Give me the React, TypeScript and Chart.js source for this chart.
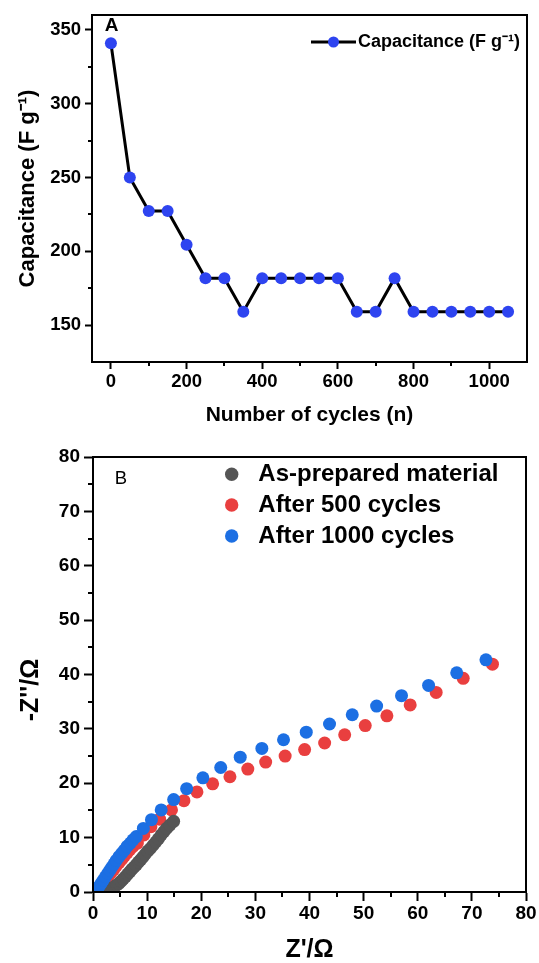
import React, { useEffect, useRef } from 'react';
import { Chart, registerables } from 'chart.js';
Chart.register(...registerables);

// ---------- Panel A data ----------
const cycles = [0, 50, 100, 150, 200, 250, 300, 350, 400, 450, 500, 550, 600, 650, 700, 750, 800, 850, 900, 950, 1000, 1050];
const capacitance = [340.9, 250.0, 227.3, 227.3, 204.5, 181.8, 181.8, 159.1, 181.8, 181.8, 181.8, 181.8, 181.8, 159.1, 159.1, 181.8, 159.1, 159.1, 159.1, 159.1, 159.1, 159.1];
const capLabel = 'Capacitance (F g\u207B\u00B9)';
const cycleTicks = [0, 200, 400, 600, 800, 1000];
const cycleMinorTicks = [100, 300, 500, 700, 900];
const capTicks = [150, 200, 250, 300, 350];
const capMinorTicks = [175, 225, 275, 325];

// ---------- Panel B data ----------
const seriesLabels = ['As-prepared material', 'After 500 cycles', 'After 1000 cycles'];
const asPreparedRe = [2.4, 2.8, 3.2, 3.6, 4.0, 4.4, 4.8, 5.2, 5.6, 6.0, 6.4, 6.8, 7.2, 7.6, 8.0, 8.4, 8.8, 9.2, 9.6, 10.1, 10.6, 11.1, 11.6, 12.1, 12.6, 13.1, 13.6, 14.2, 14.9];
const asPreparedIm = [0.4, 0.5, 0.6, 0.8, 1.0, 1.3, 1.6, 2.0, 2.4, 2.8, 3.3, 3.7, 4.2, 4.6, 5.0, 5.5, 5.9, 6.4, 6.9, 7.5, 8.0, 8.6, 9.2, 9.8, 10.5, 11.1, 11.7, 12.3, 13.0];
const after500Re = [0.8, 1.2, 1.6, 2.0, 2.4, 2.8, 3.3, 3.8, 4.3, 4.8, 5.3, 5.8, 6.3, 6.8, 7.4, 8.2, 9.4, 10.7, 12.3, 14.5, 16.8, 19.2, 22.1, 25.3, 28.6, 31.9, 35.5, 39.1, 42.8, 46.5, 50.3, 54.3, 58.6, 63.4, 68.4, 73.8];
const after500Im = [0.0, 0.5, 1.1, 1.7, 2.3, 2.9, 3.5, 4.1, 4.8, 5.4, 6.0, 6.6, 7.2, 7.8, 8.4, 9.0, 10.5, 12.0, 13.4, 15.1, 16.8, 18.4, 19.9, 21.2, 22.6, 23.9, 25.0, 26.2, 27.4, 28.9, 30.6, 32.4, 34.4, 36.7, 39.3, 41.9];
const after1000Re = [0.5, 0.8, 1.1, 1.5, 1.9, 2.3, 2.7, 3.1, 3.5, 3.9, 4.3, 4.8, 5.3, 5.8, 6.3, 6.9, 7.4, 8.0, 9.3, 10.8, 12.6, 14.9, 17.3, 20.3, 23.6, 27.2, 31.2, 35.2, 39.4, 43.7, 47.9, 52.4, 57.0, 62.0, 67.2, 72.6];
const after1000Im = [0.0, 0.5, 1.0, 1.6, 2.2, 2.8, 3.4, 4.0, 4.6, 5.2, 5.8, 6.5, 7.1, 7.7, 8.4, 9.0, 9.6, 10.2, 11.7, 13.3, 15.1, 17.0, 19.0, 21.0, 22.9, 24.8, 26.4, 28.0, 29.4, 30.9, 32.6, 34.2, 36.1, 38.0, 40.3, 42.7];
const zTicks = [0, 10, 20, 30, 40, 50, 60, 70, 80];
const zMinorTicks = [5, 15, 25, 35, 45, 55, 65, 75];

const FONT = "'Liberation Sans', Arial, Helvetica, sans-serif";
const BLUE_A = '#2e44f0';
const COLORS_B = ['#555555', '#e93f3f', '#1c6fe3'];

const toPts = (xs: number[], ys: number[]) => xs.map((x, i) => ({ x, y: ys[i] }));

function decor(cfg: {
  xMinor: number[]; yMinor: number[]; xMinorLen: number; yMinorLen: number;
  extra: (chart: any, ctx: CanvasRenderingContext2D) => void;
}) {
  return {
    id: 'decor',
    afterDraw(chart: any) {
      const { ctx, chartArea: ca, scales } = chart;
      ctx.save();
      ctx.strokeStyle = '#000';
      ctx.lineWidth = 2;
      ctx.strokeRect(Math.round(ca.left), Math.round(ca.top), Math.round(ca.right) - Math.round(ca.left), Math.round(ca.bottom) - Math.round(ca.top));
      ctx.beginPath();
      for (const v of cfg.xMinor) {
        const px = Math.round(scales.x.getPixelForValue(v));
        ctx.moveTo(px, ca.bottom);
        ctx.lineTo(px, ca.bottom + cfg.xMinorLen);
      }
      for (const v of cfg.yMinor) {
        const py = Math.round(scales.y.getPixelForValue(v));
        ctx.moveTo(ca.left - cfg.yMinorLen, py);
        ctx.lineTo(ca.left, py);
      }
      ctx.stroke();
      cfg.extra(chart, ctx);
      ctx.restore();
    },
  };
}

function axisCommon(tickLen: number, tickSize: number, tickPad: number) {
  return {
    grid: { display: true, drawOnChartArea: false, drawTicks: true, tickLength: tickLen, tickWidth: 2, tickColor: '#000' },
    border: { display: true, color: '#000', width: 2 },
    ticks: {
      color: '#000', padding: tickPad, autoSkip: false, maxRotation: 0,
      font: { family: FONT, weight: 'bold', size: tickSize, lineHeight: 1.2 },
      callback: (v: any) => String(v),
    },
  };
}

function ChartA() {
  const ref = useRef<HTMLCanvasElement>(null);
  useEffect(() => {
    const xc = axisCommon(7, 18.5, 1.6);
    const yc = axisCommon(7, 18.5, 4);
    const chart = new Chart(ref.current!, {
      type: 'line',
      data: {
        datasets: [{
          label: capLabel,
          data: toPts(cycles, capacitance),
          borderColor: '#000', borderWidth: 3, tension: 0,
          pointRadius: 6, pointBackgroundColor: BLUE_A, pointBorderColor: BLUE_A, pointBorderWidth: 0,
        }],
      },
      options: {
        responsive: false, animation: false, devicePixelRatio: 1,
        layout: { padding: { top: 13, right: 12, left: 0, bottom: 0 } },
        plugins: { legend: { display: false }, tooltip: { enabled: false } },
        scales: {
          x: {
            type: 'linear', min: -50, max: 1100, ...xc,
            afterBuildTicks: (s: any) => { s.ticks = cycleTicks.map((value) => ({ value })); },
            afterFit: (s: any) => { s.height = 78; },
            title: { display: true, text: 'Number of cycles (n)', color: '#000', font: { family: FONT, weight: 'bold', size: 21, lineHeight: 1.2 }, padding: { top: 0, bottom: 12.4 } },
          },
          y: {
            type: 'linear', min: 125, max: 360, ...yc,
            afterBuildTicks: (s: any) => { s.ticks = capTicks.map((value) => ({ value })); },
            afterFit: (s: any) => { s.width = 92; },
            title: { display: true, text: capLabel, color: '#000', font: { family: FONT, weight: 'bold', size: 22, lineHeight: 1.2 }, padding: { top: 14.3, bottom: 0 } },
          },
        },
      } as any,
      plugins: [decor({
        xMinor: cycleMinorTicks, yMinor: capMinorTicks, xMinorLen: 4, yMinorLen: 4,
        extra: (chart, ctx) => {
          ctx.fillStyle = '#000';
          ctx.font = `bold 19px ${FONT}`;
          ctx.textAlign = 'center';
          ctx.textBaseline = 'middle';
          ctx.fillText('A', 111.5, 26);
          // legend
          ctx.strokeStyle = '#000';
          ctx.lineWidth = 3;
          ctx.beginPath();
          ctx.moveTo(311, 42);
          ctx.lineTo(356, 42);
          ctx.stroke();
          ctx.fillStyle = BLUE_A;
          ctx.beginPath();
          ctx.arc(333.5, 42, 5.5, 0, Math.PI * 2);
          ctx.fill();
          ctx.fillStyle = '#000';
          ctx.font = `bold 18px ${FONT}`;
          ctx.textAlign = 'left';
          ctx.fillText(chart.data.datasets[0].label, 358, 42);
        },
      })],
    });
    return () => chart.destroy();
  }, []);
  return <canvas ref={ref} width={539} height={440} style={{ display: 'block', width: 539, height: 440 }} />;
}

function ChartB() {
  const ref = useRef<HTMLCanvasElement>(null);
  useEffect(() => {
    const xc = axisCommon(9, 19, 1);
    const yc = axisCommon(9, 19, 4);
    const series = [
      toPts(asPreparedRe, asPreparedIm),
      toPts(after500Re, after500Im),
      toPts(after1000Re, after1000Im),
    ];
    const orders = [1, 2, 0];
    const chart = new Chart(ref.current!, {
      type: 'scatter',
      data: {
        datasets: series.map((data, i) => ({
          label: seriesLabels[i], data, order: orders[i], clip: 0,
          pointRadius: 6.5, pointBackgroundColor: COLORS_B[i], pointBorderColor: COLORS_B[i], pointBorderWidth: 0,
          showLine: false,
        })),
      },
      options: {
        responsive: false, animation: false, devicePixelRatio: 1,
        layout: { padding: { top: 17, right: 13, left: 0, bottom: 0 } },
        plugins: { legend: { display: false }, tooltip: { enabled: false } },
        scales: {
          x: {
            type: 'linear', min: 0, max: 80, ...xc,
            afterBuildTicks: (s: any) => { s.ticks = zTicks.map((value) => ({ value })); },
            afterFit: (s: any) => { s.height = 71; },
            title: { display: true, text: "Z'/\u03A9", color: '#000', font: { family: FONT, weight: 'bold', size: 25, lineHeight: 1 }, padding: { top: 0, bottom: 0.5 } },
          },
          y: {
            type: 'linear', min: 0, max: 80, ...yc,
            afterBuildTicks: (s: any) => { s.ticks = zTicks.map((value) => ({ value })); },
            afterFit: (s: any) => { s.width = 93; },
            title: { display: false },
          },
        },
      } as any,
      plugins: [decor({
        xMinor: zMinorTicks, yMinor: zMinorTicks, xMinorLen: 5, yMinorLen: 5,
        extra: (chart, ctx) => {
          ctx.fillStyle = '#000';
          ctx.font = `18.5px ${FONT}`;
          ctx.textAlign = 'center';
          ctx.textBaseline = 'middle';
          ctx.fillText('B', 121, 38.5);
          // y title
          ctx.save();
          ctx.translate(31, 250);
          ctx.rotate(-Math.PI / 2);
          ctx.font = `bold 25px ${FONT}`;
          ctx.fillText("-Z''/\u03A9", 0, 0);
          ctx.restore();
          // legend
          const rows = [34.3, 65, 96];
          ctx.font = `bold 24px ${FONT}`;
          ctx.textAlign = 'left';
          chart.data.datasets.forEach((ds: any, i: number) => {
            ctx.fillStyle = COLORS_B[i];
            ctx.beginPath();
            ctx.arc(231.7, rows[i], 6.7, 0, Math.PI * 2);
            ctx.fill();
            ctx.fillStyle = '#000';
            ctx.fillText(ds.label, 258.3, rows[i]);
          });
        },
      })],
    });
    return () => chart.destroy();
  }, []);
  return <canvas ref={ref} width={539} height={523} style={{ display: 'block', width: 539, height: 523 }} />;
}

export default function App() {
  return (
    <div style={{ position: 'absolute', left: 0, top: 0, width: 539, height: 963, background: '#fff', overflow: 'hidden' }}>
      <ChartA />
      <ChartB />
    </div>
  );
}
